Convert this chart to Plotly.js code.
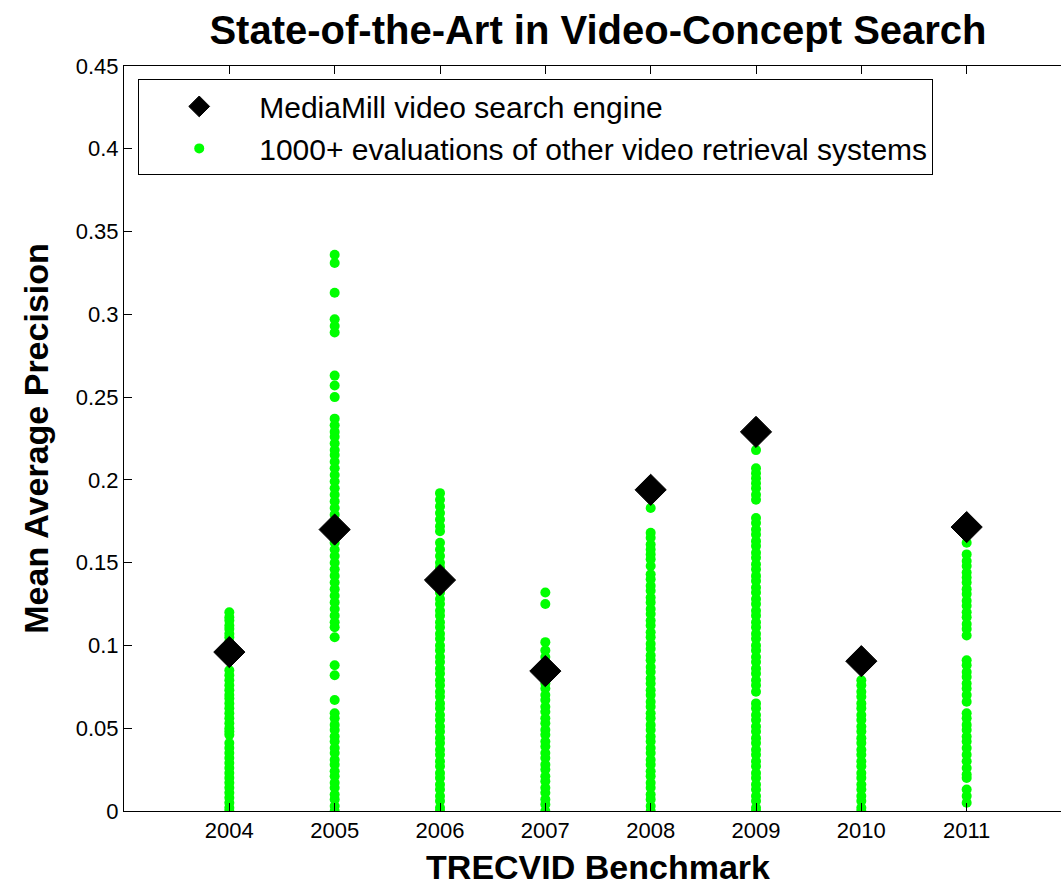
<!DOCTYPE html>
<html>
<head>
<meta charset="utf-8">
<script src="https://cdn.plot.ly/plotly-3.0.1.min.js"></script>
<style>
html,body{margin:0;padding:0;background:#fff;overflow:hidden;}
#chart{width:1085px;height:889px;}
</style>
</head>
<body>
<div id="chart"></div>
<script>
var years = [2004, 2005, 2006, 2007, 2008, 2009, 2010, 2011];
var tickLabels = ["2004", "2005", "2006", "2007", "2008", "2009", "2010", "2011"];
var mediamill = [0.096, 0.170, 0.1395, 0.0845, 0.194, 0.229, 0.0905, 0.1715];

var g2004 = [0.120,0.117,0.115,0.112,0.110,0.107,0.105,0.102,0.085,0.082,0.079,0.076,0.073,0.070,0.068,0.065,0.062,0.059,0.056,0.053,0.050,0.048,0.046,0.041,0.038,0.035,0.032,0.029,0.026,0.023,0.020,0.017,0.014,0.011,0.008,0.005,0.002,0.000];
var g2005 = [0.336,0.331,0.313,0.297,0.293,0.289,0.263,0.257,0.250,0.237,0.233,0.229,0.226,0.222,0.218,0.215,0.211,0.207,0.203,0.199,0.195,0.191,0.187,0.183,0.179,0.175,0.171,0.166,0.162,0.158,0.154,0.150,0.146,0.142,0.138,0.134,0.130,0.126,0.122,0.118,0.114,0.111,0.105,0.088,0.082,0.067,0.059,0.056,0.052,0.049,0.045,0.042,0.038,0.035,0.031,0.028,0.024,0.021,0.017,0.014,0.010,0.007,0.003,0.000];
var g2006 = [0.192,0.188,0.184,0.180,0.176,0.172,0.169,0.162,0.158,0.154,0.150,0.147,0.143,0.139,0.135,0.132,0.128,0.125,0.121,0.118,0.114,0.111,0.107,0.104,0.100,0.097,0.093,0.090,0.086,0.083,0.079,0.076,0.072,0.069,0.065,0.062,0.058,0.055,0.051,0.048,0.044,0.041,0.037,0.034,0.030,0.027,0.023,0.020,0.016,0.013,0.009,0.006,0.002,0.000];
var g2007 = [0.132,0.125,0.102,0.097,0.093,0.089,0.086,0.082,0.077,0.074,0.070,0.067,0.063,0.060,0.056,0.053,0.049,0.046,0.042,0.039,0.035,0.032,0.028,0.025,0.021,0.018,0.014,0.011,0.007,0.004,0.000];
var g2008 = [0.183,0.168,0.165,0.161,0.158,0.155,0.152,0.148,0.143,0.140,0.136,0.133,0.129,0.126,0.122,0.119,0.115,0.112,0.108,0.105,0.101,0.098,0.094,0.091,0.087,0.084,0.080,0.077,0.073,0.070,0.066,0.063,0.059,0.056,0.052,0.049,0.045,0.042,0.038,0.035,0.031,0.028,0.024,0.021,0.017,0.014,0.010,0.007,0.003,0.000];
var g2009 = [0.218,0.207,0.204,0.201,0.198,0.195,0.191,0.188,0.177,0.174,0.170,0.167,0.163,0.160,0.156,0.153,0.149,0.146,0.142,0.139,0.135,0.132,0.128,0.125,0.121,0.118,0.114,0.111,0.107,0.104,0.100,0.097,0.093,0.090,0.086,0.083,0.079,0.076,0.072,0.065,0.062,0.058,0.055,0.051,0.048,0.044,0.041,0.037,0.034,0.030,0.027,0.023,0.020,0.016,0.013,0.009,0.006,0.002,0.000];
var g2010 = [0.079,0.076,0.072,0.069,0.065,0.062,0.058,0.055,0.051,0.048,0.044,0.041,0.037,0.034,0.030,0.027,0.023,0.020,0.016,0.013,0.009,0.006,0.002,0.000];
var g2011 = [0.162,0.155,0.151,0.148,0.144,0.141,0.138,0.134,0.131,0.127,0.124,0.120,0.117,0.113,0.110,0.106,0.091,0.088,0.084,0.081,0.077,0.074,0.070,0.066,0.059,0.056,0.052,0.049,0.045,0.042,0.038,0.034,0.030,0.026,0.022,0.020,0.013,0.009,0.005];

var others = [g2004, g2005, g2006, g2007, g2008, g2009, g2010, g2011];

var gx = [], gy = [];
others.forEach(function (vals, i) {
  vals.forEach(function (v) { gx.push(years[i]); gy.push(v); });
});

var font = "Arial, 'Liberation Sans', sans-serif";

var traces = [
  {
    type: "scatter", mode: "markers",
    x: gx, y: gy,
    name: "1000+ evaluations of other video retrieval systems",
    legendrank: 2,
    marker: {symbol: "circle", size: 10, color: "#00ff00"},
    hoverinfo: "x+y"
  },
  {
    type: "scatter", mode: "markers",
    x: years, y: mediamill,
    name: "MediaMill video search engine",
    legendrank: 1,
    marker: {symbol: "diamond", size: 24, color: "#000000", line: {color: "#000000", width: 1}},
    hoverinfo: "x+y"
  }
];

var layout = {
  width: 1085, height: 889,
  margin: {l: 124, r: 13, t: 66, b: 78},
  paper_bgcolor: "#ffffff", plot_bgcolor: "#ffffff",
  font: {family: font, color: "#000000"},
  title: {
    text: "<b>State-of-the-Art in Video-Concept Search</b>",
    font: {family: font, size: 40, color: "#000000"},
    x: 0.5, xref: "paper", xanchor: "center",
    y: 1 - 30 / 889, yref: "container", yanchor: "middle"
  },
  xaxis: {
    range: [2003, 2012],
    tickmode: "array", tickvals: years, ticktext: tickLabels,
    ticks: "inside", ticklen: 8, tickcolor: "#000000",
    showline: true, linecolor: "#000000", linewidth: 1, mirror: "ticks",
    showgrid: false, zeroline: false,
    tickfont: {family: font, size: 22, color: "#000000"},
    title: {text: "<b>TRECVID Benchmark</b>", font: {family: font, size: 34, color: "#000000"}, standoff: 12}
  },
  yaxis: {
    range: [0, 0.45],
    tickmode: "array",
    tickvals: [0, 0.05, 0.1, 0.15, 0.2, 0.25, 0.3, 0.35, 0.4, 0.45],
    ticktext: ["0", "0.05", "0.1", "0.15", "0.2", "0.25", "0.3", "0.35", "0.4", "0.45"],
    ticks: "inside", ticklen: 8, tickcolor: "#000000",
    showline: true, linecolor: "#000000", linewidth: 1, mirror: "ticks",
    showgrid: false, zeroline: false,
    tickfont: {family: font, size: 22, color: "#000000"},
    title: {text: "<b>Mean Average Precision</b>", font: {family: font, size: 34, color: "#000000"}, standoff: 16}
  },
  showlegend: true,
  legend: {
    x: 0.015, y: 0.982, xanchor: "left", yanchor: "top",
    bgcolor: "#ffffff", bordercolor: "#000000", borderwidth: 1,
    font: {family: font, size: 30, color: "#000000"},
    itemsizing: "trace",
    itemwidth: 110,
    traceorder: "normal"
  }
};

Plotly.newPlot("chart", traces, layout, {displayModeBar: false, responsive: false});
</script>
</body>
</html>
